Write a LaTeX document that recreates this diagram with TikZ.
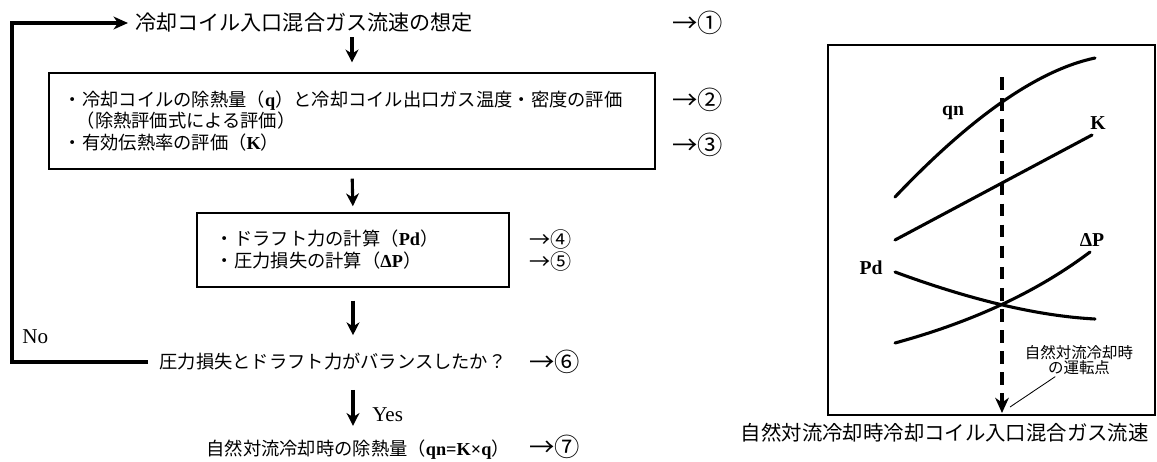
\documentclass[tikz,border=0pt]{standalone}
\usepackage{fontspec}
\setmainfont{Noto Sans CJK JP}
\newfontfamily\latinfont{Liberation Serif}
\usetikzlibrary{arrows.meta,positioning,calc}
\newcommand{\lat}[1]{{\latinfont\bfseries #1}}
\tikzset{
  px/.style={x=0.025cm,y=-0.025cm},
  flowtext/.style={font=\fontsize{13}{15.6}\selectfont,inner sep=0pt},
  headtext/.style={font=\fontsize{15}{18}\selectfont,inner sep=0pt},
  stepbox/.style={
    draw,
    line width=1pt,
    flowtext,
    align=left,
    inner ysep=2pt
  },
  marker/.style={font=\fontsize{18}{18}\selectfont,inner sep=0pt,anchor=west},
  smallmarker/.style={marker,font=\fontsize{15}{15}\selectfont},
  answer/.style={font=\latinfont\fontsize{15}{15}\selectfont,inner sep=0pt,anchor=west},
  flow/.style={-{Stealth[length=3.2mm,width=3.2mm,inset=1mm]},line width=2.2pt},
  loopback/.style={-{Stealth[length=3.6mm,width=3.2mm,inset=1.1mm]},line width=2.2pt},
  graphframe/.style={draw,line width=1.3pt,inner sep=0pt},
  curveline/.style={line width=2.2pt,line cap=round},
  curvelabel/.style={font=\latinfont\bfseries\fontsize{14}{14}\selectfont,inner sep=0pt},
  oppoint/.style={-{Stealth[length=3.8mm,width=3.4mm,inset=1.2mm]},dash pattern=on 9pt off 6pt,line width=2.6pt},
  note/.style={font=\fontsize{11}{11}\selectfont,align=center,inner sep=1pt},
  leader/.style={line width=0.6pt}
}

\begin{document}
\begin{tikzpicture}[px]
  \useasboundingbox (0,0) rectangle (1157,461);

  % Calculation flow.
  \node[headtext,anchor=west] (assume) at (135,23) {冷却コイル入口混合ガス流速の想定};
  \node[stepbox,minimum width=15.15cm,minimum height=2.4cm,text width=14.4cm,inner xsep=0.375cm] (coil) at (352,121)
    {・冷却コイルの除熱量（\lat{q}）と冷却コイル出口ガス温度・密度の評価\\
     \hspace{0.7em}（除熱評価式による評価）\\
     ・有効伝熱率の評価（\lat{K}）};
  \node[stepbox,minimum width=7.8cm,minimum height=1.85cm,text width=6.85cm,inner xsep=0.475cm,
        font=\fontsize{13}{15.6}\selectfont] (draft) at (353,250)
    {・ドラフト力の計算（\lat{Pd}）\\
     ・圧力損失の計算（\lat{ΔP}）};
  \node[flowtext,anchor=west,inner xsep=8pt] (balance) at (148,362) {圧力損失とドラフト力がバランスしたか？};
  \node[flowtext,anchor=east] (result) at (510,450) {自然対流冷却時の除熱量（\lat{qn=K×q}）};

  \draw[flow,shorten <=3pt,shorten >=7pt] (assume.south -| coil.north) -- (coil.north);
  \draw[flow,shorten <=6.4pt,shorten >=4.3pt] (coil.south) -- (draft.north);
  \draw[flow,shorten <=9.2pt,shorten >=12.8pt] (draft.south) -- (draft.south |- balance.north);
  \draw[flow,shorten <=13.5pt,shorten >=10pt] (balance.south -| draft.south) -- (result.north -| draft.south);
  \node[answer] (yes) at (372,415) {Yes};

  % Loop back when not balanced.
  \coordinate (loopturn) at (12,0);
  \draw[loopback,shorten >=5pt] (balance.west) -- (balance.west -| loopturn) |- (assume.west);
  \node[answer] (no) at (22,337) {No};

  % Step numbers.
  \node[marker] (m1) at (672,23) {→①};
  \node[marker] (m2) at (672,100) {→②};
  \node[marker] (m3) at (672,145) {→③};
  \node[smallmarker] (m4) at (529,239) {→④};
  \node[smallmarker] (m5) at (529,261) {→⑤};
  \node[marker] (m6) at (529,362) {→⑥};
  \node[marker] (m7) at (529,447) {→⑦};

  % Operating point graph.
  \node[graphframe,minimum width=8.175cm,minimum height=9.25cm] (plot) at (991.5,230) {};
  \draw[curveline] (895,197) .. controls (971,117) and (1038,70) .. (1095,58);
  \draw[curveline] (895,240) -- (1092,135);
  \draw[curveline] (895,343) .. controls (972,322) and (1037,292) .. (1090,252);
  \draw[curveline] (895,272) .. controls (971,300) and (1038,316) .. (1095,319);
  \node[curvelabel] (qnlbl) at (953,113) {qn};
  \node[curvelabel] (klbl) at (1098,123) {K};
  \node[curvelabel] (dplbl) at (1092,240) {ΔP};
  \node[curvelabel] (pdlbl) at (871,268) {Pd};

  \coordinate (optop) at (1002,77);
  \coordinate (opbot) at (1002,413);
  \draw[oppoint] (optop) -- (opbot);
  \node[note] (opnote) at (1079,360) {自然対流冷却時\\の運転点};
  \coordinate (opmark) at (1010,407);
  \draw[leader] (opnote.215) -- (opmark);

  \node[flowtext,font=\fontsize{14.5}{14.5}\selectfont,anchor=east] (xaxis) at (1149,433)
    {自然対流冷却時冷却コイル入口混合ガス流速};
\end{tikzpicture}
\end{document}
